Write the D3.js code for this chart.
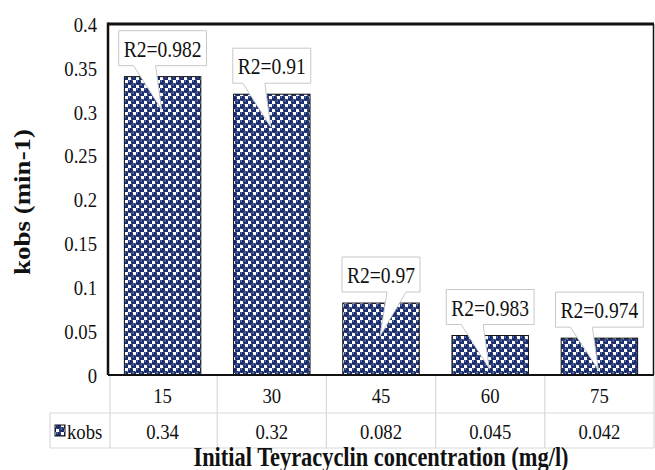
<!DOCTYPE html>
<html>
<head>
<meta charset="utf-8">
<script src="https://cdn.jsdelivr.net/npm/d3@7"></script>
<style>
  html, body { margin: 0; padding: 0; background: #fff; }
  svg { display: block; }
  text { font-family: "Liberation Serif", "Times New Roman", serif; fill: #111; }
</style>
</head>
<body>
<svg id="chart" width="655" height="470"></svg>
<script>
// ---- data ----
const categories = ["15", "30", "45", "60", "75"];
const kobs = [0.34, 0.32, 0.082, 0.045, 0.042];
const r2Values = [0.982, 0.91, 0.97, 0.983, 0.974];
const yTicks = [0, 0.05, 0.1, 0.15, 0.2, 0.25, 0.3, 0.35, 0.4];
const seriesName = "kobs";
const xTitle = "Initial Teyracyclin concentration (mg/l)";
const yTitle = "kobs (min-1)";
// which side of the bar centre each callout pointer leaves the box (-1 left, 1 right)
const pointerSide = [-1, -1, 1, -1, -1];

// ---- layout ----
const plot = { left: 108, right: 654, top: 24, bottom: 375 };
const SX = 0.85; // horizontal condensing of glyphs
const navy = "#182c6e";
const gridGray = "#d9d9d9";

const svg = d3.select("#chart");

// pattern: navy dots on white
const defs = svg.append("defs");
const pat = defs.append("pattern").attr("id", "dots").attr("patternUnits", "userSpaceOnUse")
  .attr("width", 8).attr("height", 8);
pat.append("rect").attr("width", 8).attr("height", 8).attr("fill", "#fff");
[[2,2],[6,6]].forEach(([cx,cy]) => {
  pat.append("circle").attr("cx", cx).attr("cy", cy).attr("r", 3.0).attr("fill", navy);
  pat.append("rect").attr("x", cx - 1.3).attr("y", cy - 1.5).attr("width", 1.1).attr("height", 1.0).attr("fill", "#c9d0e3");
});

const x = d3.scaleBand().domain(categories).range([plot.left, plot.right])
  .paddingInner(0.3).paddingOuter(0.15);
const y = d3.scaleLinear().domain([0, 0.4]).range([plot.bottom, plot.top]);

function condensed(sel, px, py) {
  sel.attr("x", 0).attr("y", 0).attr("transform", `translate(${px},${py}) scale(${SX},1)`);
  return sel;
}

// ---- y axis ----
const yAxis = d3.axisLeft(y).tickValues(yTicks).tickSize(0).tickSizeOuter(0)
  .tickFormat(d => d3.format("")(+d.toFixed(2)));
const gy = svg.append("g").attr("transform", `translate(${plot.left},0)`).call(yAxis);
gy.select(".domain").remove();
gy.selectAll(".tick text")
  .attr("x", 0).attr("dy", "0.33em")
  .attr("transform", `translate(-11,0) scale(${SX},1)`)
  .style("font-family", '"Liberation Serif", serif')
  .style("font-size", "22px").attr("fill", "#111");

// ---- bars ----
svg.append("g").selectAll("rect").data(kobs).join("rect")
  .attr("x", (d, i) => x(categories[i]))
  .attr("y", d => y(d))
  .attr("width", x.bandwidth())
  .attr("height", d => y(0) - y(d))
  .attr("fill", "url(#dots)")
  .attr("stroke", "#111").attr("stroke-width", 1);

// ---- frame ----
svg.append("line").attr("x1", plot.left).attr("x2", plot.right).attr("y1", plot.top).attr("y2", plot.top)
  .attr("stroke", "#111").attr("stroke-width", 3);
svg.append("line").attr("x1", plot.right - 0.5).attr("x2", plot.right - 0.5).attr("y1", plot.top).attr("y2", plot.bottom)
  .attr("stroke", "#111").attr("stroke-width", 1.5);
svg.append("line").attr("x1", plot.left).attr("x2", plot.left).attr("y1", plot.top - 1.5).attr("y2", plot.bottom)
  .attr("stroke", "#111").attr("stroke-width", 2.5);
svg.append("line").attr("x1", plot.left).attr("x2", plot.right).attr("y1", y(0)).attr("y2", y(0))
  .attr("stroke", "#111").attr("stroke-width", 2);

// ---- callouts ----
const cg = svg.append("g");
kobs.forEach((v, i) => {
  const cx = x(categories[i]) + x.bandwidth() / 2;
  const top = y(v);
  const boxBottom = top - 11;
  const boxTop = boxBottom - 35;
  const label = "R2=" + r2Values[i];
  const g = cg.append("g");
  const path = g.append("path");
  const t = g.append("text").text(label).style("font-size", "23px")
    .attr("text-anchor", "middle").attr("dy", "0.35em");
  condensed(t, cx, (boxTop + boxBottom) / 2 + 0.5);
  const tw = t.node().getComputedTextLength() * SX;
  const x0 = cx - tw / 2 - 5, x1 = cx + tw / 2 + 5;
  const tipY = Math.min(top + 33, y(0) - 5);
  let b0, b1;
  if (pointerSide[i] < 0) { b0 = cx - 29; b1 = cx - 7; } else { b0 = cx + 6; b1 = cx + 25; }
  path.attr("d", `M${x0},${boxTop} H${x1} V${boxBottom} H${b1} L${cx - 1},${tipY} L${b0},${boxBottom} H${x0} Z`)
    .attr("fill", "#fff").attr("stroke", "#c8c8c8").attr("stroke-width", 1);
  t.raise();
});

// ---- data table ----
const rowMid = 413, rowBot = 448, legendLeft = 50;
const tg = svg.append("g").attr("stroke", gridGray).attr("stroke-width", 1.2);
tg.append("line").attr("x1", legendLeft).attr("x2", plot.right).attr("y1", rowMid).attr("y2", rowMid);
tg.append("line").attr("x1", legendLeft).attr("x2", plot.right).attr("y1", rowBot).attr("y2", rowBot);
tg.append("line").attr("x1", legendLeft).attr("x2", legendLeft).attr("y1", rowMid).attr("y2", rowBot);
const step = x.step();
categories.forEach((c, i) => {
  const bx = plot.left + step * (i + 1);
  tg.append("line").attr("x1", bx).attr("x2", bx).attr("y1", y(0) + 1).attr("y2", rowBot);
});
tg.append("line").attr("x1", plot.left + 2).attr("x2", plot.left + 2).attr("y1", y(0) + 1).attr("y2", rowBot);

categories.forEach((c, i) => {
  const cx = x(c) + x.bandwidth() / 2;
  condensed(svg.append("text").text(c).style("font-size", "22px").attr("text-anchor", "middle").attr("dy", "0.35em"),
    cx, (y(0) + rowMid) / 2 + 1);
  condensed(svg.append("text").text(String(kobs[i])).style("font-size", "22px").attr("text-anchor", "middle").attr("dy", "0.35em"),
    cx, (rowMid + rowBot) / 2 + 0.5);
});
// legend key
svg.append("rect").attr("x", 55).attr("y", 425).attr("width", 10).attr("height", 11)
  .attr("fill", "url(#dots)").attr("stroke", "#111").attr("stroke-width", 1);
condensed(svg.append("text").text(seriesName).style("font-size", "22px").attr("dy", "0.35em"), 67, (rowMid + rowBot) / 2 + 0.5);

// ---- titles ----
svg.append("text").text(xTitle).style("font-size", "27px").style("font-weight", "bold")
  .attr("text-anchor", "middle")
  .attr("transform", `translate(381,466) scale(0.83,1)`);
svg.append("text").text(yTitle).style("font-size", "27px").style("font-weight", "bold")
  .attr("text-anchor", "middle")
  .attr("transform", `translate(30,202) rotate(-90) scale(1,0.83)`);
</script>
</body>
</html>
